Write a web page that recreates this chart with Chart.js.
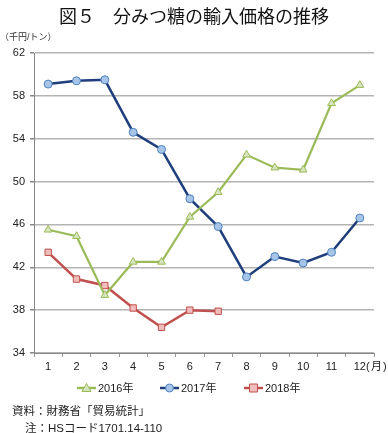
<!DOCTYPE html>
<html lang="ja">
<head>
<meta charset="utf-8">
<title>分みつ糖の輸入価格の推移</title>
<script src="https://cdn.jsdelivr.net/npm/chart.js@4/dist/chart.umd.min.js"></script>
<style>
    body { margin: 0; background: #fff; }
    .wrap { position: relative; width: 388px; height: 433px; font-family: 'Liberation Sans', 'Noto Sans CJK JP', sans-serif; color: #222; }
    .title { position: absolute; left: 0; top: 2px; width: 388px; text-align: center; font-size: 18px; font-family: 'Noto Sans CJK JP', sans-serif; color: #111; }
    .unit { position: absolute; left: 0; top: 30px; font-size: 9px; color: #333; }
    .note { position: absolute; font-size: 11.5px; color: #222; }
    canvas { position: absolute; left: 0; top: 0; }
</style>
</head>
<body>
<div class="wrap">
    <canvas id="priceChart" width="388" height="433"></canvas>
    <div class="title">図５　分みつ糖の輸入価格の推移</div>
    <div class="unit">（千円/トン）</div>
    <div class="note" style="left:12px; top:402px;">資料：財務省「貿易統計」</div>
    <div class="note" style="left:25px; top:419px;">注：HSコード1701.14-110</div>
</div>

<script>
// ========================================
// DATA
// ========================================
const months = ['1', '2', '3', '4', '5', '6', '7', '8', '9', '10', '11', '12'];
const price2016 = [45.5, 44.9, 39.4, 42.5, 42.5, 46.7, 49.0, 52.5, 51.3, 51.1, 57.3, 59.0];
const price2017 = [59.1, 59.4, 59.5, 54.6, 53.0, 48.4, 45.8, 41.1, 43.0, 42.4, 43.4, 46.6];
const price2018 = [43.4, 40.9, 40.3, 38.2, 36.4, 38.0, 37.9];
const yMin = 34;
const yMax = 62;
const yStep = 4;

const FONT = "'Liberation Sans', 'Noto Sans CJK JP', sans-serif";

// line + marker legend, plus the (月) label
const extrasPlugin = {
    id: 'extras',
    afterDraw(chart) {
        const ctx = chart.ctx;
        const xScale = chart.scales.x;
        ctx.save();
        ctx.font = '11px ' + FONT;
        ctx.fillStyle = '#222';
        ctx.textBaseline = 'middle';
        ctx.textAlign = 'left';
        ctx.fillText('(', xScale.right - 8, 367);
        ctx.fillText('月', xScale.right - 3, 367);
        ctx.fillText(')', xScale.right + 9, 367);

        const startX = [77, 160, 244];
        chart.data.datasets.forEach((ds, i) => {
            const x = startX[i];
            const y = 388;
            ctx.strokeStyle = ds.borderColor;
            ctx.lineWidth = 2.5;
            ctx.beginPath();
            ctx.moveTo(x, y);
            ctx.lineTo(x + 19, y);
            ctx.stroke();
            ctx.fillStyle = ds.pointBackgroundColor;
            ctx.strokeStyle = ds.pointBorderColor;
            ctx.lineWidth = 1;
            ctx.beginPath();
            if (ds.pointStyle === 'circle') {
                ctx.arc(x + 9.5, y, 4, 0, Math.PI * 2);
            } else if (ds.pointStyle === 'rect') {
                ctx.rect(x + 5.5, y - 4, 8, 8);
            } else {
                ctx.moveTo(x + 9.5, y - 4.5);
                ctx.lineTo(x + 14, y + 3.5);
                ctx.lineTo(x + 5, y + 3.5);
                ctx.closePath();
            }
            ctx.fill();
            ctx.stroke();
            ctx.fillStyle = '#222';
            ctx.fillText(ds.label, x + 21, y + 0.5);
        });
        ctx.restore();
    }
};

function initPriceChart() {
    const ctx = document.getElementById('priceChart');

    new Chart(ctx, {
        type: 'line',
        data: {
            labels: months,
            datasets: [
                {
                    label: '2016年',
                    data: price2016,
                    borderColor: '#9bbb59',
                    borderWidth: 2.2,
                    pointStyle: 'triangle',
                    pointRadius: 4.5,
                    pointBackgroundColor: '#d7e4bd',
                    pointBorderColor: '#9bbb59',
                    pointBorderWidth: 1,
                    tension: 0
                },
                {
                    label: '2017年',
                    data: price2017,
                    borderColor: '#1f3e7c',
                    borderWidth: 2.5,
                    pointStyle: 'circle',
                    pointRadius: 4,
                    pointBackgroundColor: '#a7c5e8',
                    pointBorderColor: '#4f81bd',
                    pointBorderWidth: 1,
                    tension: 0
                },
                {
                    label: '2018年',
                    data: price2018,
                    borderColor: '#c0504d',
                    borderWidth: 2.5,
                    pointStyle: 'rect',
                    pointRadius: 4.5,
                    pointBackgroundColor: '#f0bcbc',
                    pointBorderColor: '#c0504d',
                    pointBorderWidth: 1,
                    tension: 0
                }
            ]
        },
        options: {
            responsive: false,
            animation: false,
            layout: {
                padding: { top: 53, right: 14, bottom: 55, left: 0 }
            },
            plugins: {
                legend: { display: false },
                tooltip: { enabled: false }
            },
            scales: {
                x: {
                    offset: true,
                    afterFit: function(scale) { scale.height = 25; },
                    border: { color: '#888', width: 1 },
                    grid: {
                        offset: true,
                        drawOnChartArea: false,
                        drawTicks: true,
                        tickLength: 4,
                        color: '#999'
                    },
                    ticks: {
                        color: '#222',
                        font: { family: FONT, size: 11 },
                        padding: 3,
                        maxRotation: 0
                    }
                },
                y: {
                    min: yMin,
                    max: yMax,
                    afterFit: function(scale) { scale.width = 34; },
                    border: { color: '#888', width: 1 },
                    grid: {
                        color: '#b4b4b4',
                        lineWidth: 1.5,
                        tickColor: '#888',
                        tickLength: 4
                    },
                    ticks: {
                        stepSize: yStep,
                        color: '#222',
                        font: { family: FONT, size: 11 },
                        padding: 5
                    }
                }
            }
        },
        plugins: [extrasPlugin]
    });
}

document.addEventListener('DOMContentLoaded', initPriceChart);
</script>
</body>
</html>
